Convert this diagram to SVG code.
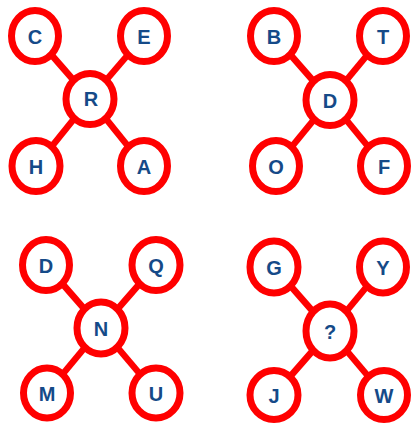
<svg xmlns="http://www.w3.org/2000/svg" width="411" height="423" viewBox="0 0 411 423">
<style>
.n ellipse{fill:#fff;stroke:#f00;stroke-width:7}
.n text{font-family:"Liberation Sans",Arial,sans-serif;font-weight:bold;font-size:20px;fill:#154a88;text-anchor:middle;dominant-baseline:central}
#connectors line{stroke:#f00;stroke-width:6.5}
</style>
<rect width="411" height="423" fill="#fff"/>
<g id="connectors">
<line x1="90" y1="99" x2="35" y2="36"/><line x1="90" y1="99" x2="144" y2="36"/><line x1="90" y1="99" x2="36" y2="166"/><line x1="90" y1="99" x2="144" y2="166"/>
<line x1="330" y1="100" x2="274" y2="36"/><line x1="330" y1="100" x2="383" y2="36"/><line x1="330" y1="100" x2="276" y2="166"/><line x1="330" y1="100" x2="384" y2="166"/>
<line x1="101" y1="328" x2="46" y2="265"/><line x1="101" y1="328" x2="156" y2="265"/><line x1="101" y1="328" x2="47" y2="393"/><line x1="101" y1="328" x2="156" y2="393"/>
<line x1="330" y1="331" x2="274" y2="267"/><line x1="330" y1="331" x2="383" y2="267"/><line x1="330" y1="331" x2="274" y2="395"/><line x1="330" y1="331" x2="384" y2="395"/>
</g>
<g id="n-C" class="n"><ellipse cx="35" cy="36" rx="23.5" ry="25.5"/><text x="35" y="37">C</text></g>
<g id="n-E" class="n"><ellipse cx="144" cy="36" rx="23.5" ry="25.5"/><text x="144" y="37">E</text></g>
<g id="n-R" class="n"><ellipse cx="90" cy="99" rx="24" ry="25.5"/><text x="91" y="99">R</text></g>
<g id="n-H" class="n"><ellipse cx="36" cy="166" rx="24" ry="25.5"/><text x="36" y="167">H</text></g>
<g id="n-A" class="n"><ellipse cx="144" cy="166" rx="23.5" ry="25.5"/><text x="144" y="167">A</text></g>
<g id="n-B" class="n"><ellipse cx="274" cy="36" rx="23.5" ry="25.5"/><text x="274" y="37">B</text></g>
<g id="n-T" class="n"><ellipse cx="383" cy="36" rx="23.5" ry="25.5"/><text x="383" y="37">T</text></g>
<g id="n-D" class="n"><ellipse cx="330" cy="100" rx="24" ry="25.5"/><text x="330" y="101">D</text></g>
<g id="n-O" class="n"><ellipse cx="276" cy="166" rx="23.5" ry="25.5"/><text x="276" y="167">O</text></g>
<g id="n-F" class="n"><ellipse cx="384" cy="166" rx="23.5" ry="25.5"/><text x="384" y="167">F</text></g>
<g id="n-D2" class="n"><ellipse cx="46" cy="265" rx="23.5" ry="25.5"/><text x="46" y="266">D</text></g>
<g id="n-Q" class="n"><ellipse cx="156" cy="265" rx="24" ry="25.5"/><text x="156" y="266">Q</text></g>
<g id="n-N" class="n"><ellipse cx="101" cy="328" rx="24" ry="26"/><text x="101" y="329">N</text></g>
<g id="n-M" class="n"><ellipse cx="47" cy="393" rx="23.5" ry="25"/><text x="47" y="394">M</text></g>
<g id="n-U" class="n"><ellipse cx="156" cy="393" rx="24" ry="25"/><text x="156" y="394">U</text></g>
<g id="n-G" class="n"><ellipse cx="274" cy="267" rx="24" ry="26"/><text x="274" y="268">G</text></g>
<g id="n-Y" class="n"><ellipse cx="383" cy="267" rx="23.5" ry="26"/><text x="383" y="268">Y</text></g>
<g id="n-Q2" class="n"><ellipse cx="330" cy="331" rx="24" ry="27"/><text x="330" y="332">?</text></g>
<g id="n-J" class="n"><ellipse cx="274" cy="395" rx="24" ry="24.5"/><text x="274" y="396">J</text></g>
<g id="n-W" class="n"><ellipse cx="384" cy="395" rx="23.5" ry="24.5"/><text x="384" y="396">W</text></g>
</svg>
